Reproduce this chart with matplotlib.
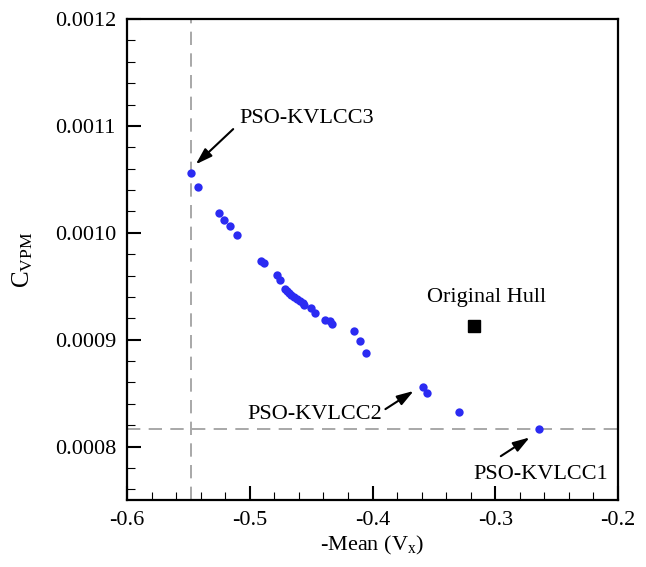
import matplotlib
matplotlib.use("Agg")
import matplotlib.pyplot as plt
from matplotlib.ticker import MultipleLocator

plt.rcParams['font.family'] = ['Liberation Serif', 'DejaVu Serif']
plt.rcParams['mathtext.fontset'] = 'custom'
plt.rcParams['mathtext.rm'] = 'Liberation Serif'
plt.rcParams['mathtext.it'] = 'Liberation Serif:italic'

# Pareto front points
mean_vx = [-0.5477, -0.5422, -0.5253, -0.5210, -0.5158, -0.5101, -0.4907, -0.4888,
           -0.4779, -0.4755, -0.4714, -0.4698, -0.4681, -0.4665, -0.4643, -0.4616,
           -0.4589, -0.4567, -0.4556, -0.4499, -0.4466, -0.4384, -0.4343, -0.4330,
           -0.4147, -0.4104, -0.4052, -0.3589, -0.3559, -0.3292, -0.2646]
cvpm = [0.0010555, 0.0010424, 0.0010184, 0.0010115, 0.0010059, 0.0009978, 0.0009738, 0.0009713,
        0.0009601, 0.0009555, 0.0009477, 0.0009458, 0.0009439, 0.0009421, 0.0009402, 0.0009383,
        0.0009364, 0.0009346, 0.0009324, 0.0009293, 0.0009246, 0.0009184, 0.0009174, 0.0009146,
        0.0009081, 0.0008984, 0.0008879, 0.0008561, 0.0008498, 0.0008321, 0.0008162]

orig_x = [-0.3172]
orig_y = [0.0009128]

vline_x = -0.5477
hline_y = 0.0008162

labels = ["PSO-KVLCC3", "PSO-KVLCC2", "PSO-KVLCC1"]
label_text_xy = [(-0.5135, 0.001097), (-0.3895, 0.000835), (-0.2955, 0.000791)]
label_head_xy = [(-0.5440, 0.0010640), (-0.3665, 0.0008520), (-0.2720, 0.0008085)]

fig = plt.figure(figsize=(6.46, 5.67), dpi=100)
ax = fig.add_axes([0.1966, 0.1182, 0.7601, 0.8483])

ax.axvline(vline_x, color='#999999', lw=1.2, ls=(0, (8, 5)), zorder=1)
ax.axhline(hline_y, color='#999999', lw=1.2, ls=(0, (8, 5)), zorder=1)

ax.plot(mean_vx, cvpm, 'o', color='#2b2bf2', ms=6, mec='none', zorder=3)
ax.plot(orig_x, orig_y, 's', color='black', ms=8.5, zorder=3)
ax.text(-0.3074, 0.0009393, "Original Hull", ha='center', va='center', fontsize=16)

for lab, txy, hxy in zip(labels, label_text_xy, label_head_xy):
    ax.annotate("", xy=hxy, xytext=txy,
                arrowprops=dict(arrowstyle='-|>,head_length=1.0,head_width=0.32',
                                color='black', lw=1.5, shrinkA=0, shrinkB=0))

ax.text(-0.5085, 0.0011065, "PSO-KVLCC3", ha='left', va='center', fontsize=16)
ax.text(-0.3925, 0.0008302, "PSO-KVLCC2", ha='right', va='center', fontsize=16)
ax.text(-0.2632, 0.0007743, "PSO-KVLCC1", ha='center', va='center', fontsize=16)

ax.set_xlim(-0.6, -0.2)
ax.set_ylim(0.00075, 0.0012)
ax.xaxis.set_minor_locator(MultipleLocator(0.02))
ax.yaxis.set_minor_locator(MultipleLocator(0.00002))
xt = [-0.6, -0.5, -0.4, -0.3, -0.2]
ax.set_xticks(xt)
ax.set_xticklabels(["-0.6", "-0.5", "-0.4", "-0.3", "-0.2"])
yt = [0.0008, 0.0009, 0.0010, 0.0011, 0.0012]
ax.set_yticks(yt)
ax.set_yticklabels(["0.0008", "0.0009", "0.0010", "0.0011", "0.0012"])

ax.tick_params(which='both', direction='in', top=False, right=False, labelsize=16)
ax.tick_params(which='major', length=10, width=1.5, pad=8)
ax.tick_params(which='minor', length=6, width=0.8)
for s in ax.spines.values():
    s.set_linewidth(1.6)

ax.set_xlabel(r"-Mean (V$_\mathrm{x}$)", fontsize=16, labelpad=3)
ax.set_ylabel(r"C$_\mathrm{VPM}$", fontsize=18, labelpad=14)

fig.savefig("out.png", dpi=100)
